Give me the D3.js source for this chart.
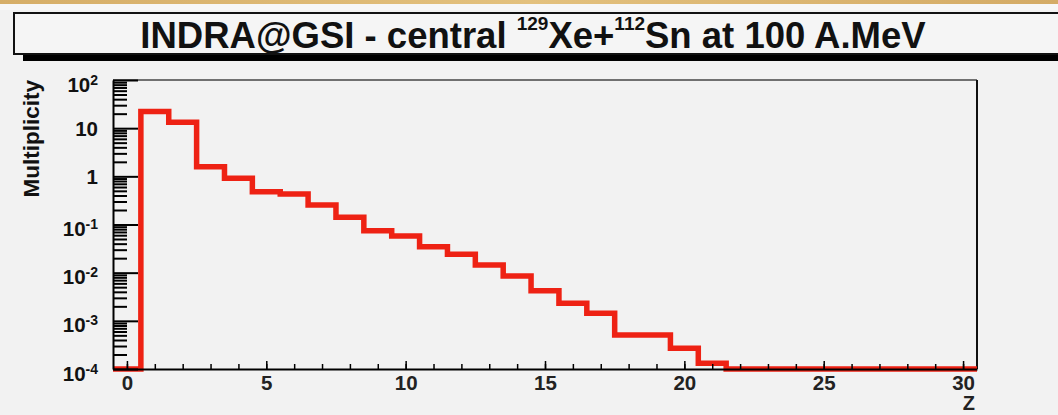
<!DOCTYPE html>
<html>
<head>
<meta charset="utf-8">
<script src="https://cdn.jsdelivr.net/npm/d3@7"></script>
<style>
  html, body { margin: 0; padding: 0; background: #f2f2f2; }
  svg { display: block; }
</style>
</head>
<body>
<script>
// charge distribution, one bin per Z, empty bins are 0
const zValues = [0, 1, 2, 3, 4, 5, 6, 7, 8, 9, 10, 11, 12, 13, 14, 15,
                 16, 17, 18, 19, 20, 21, 22, 23, 24, 25, 26, 27, 28, 29, 30]
const multiplicity = [0, 22.2, 13.2, 1.58, 0.91, 0.48, 0.43, 0.254, 0.141, 0.0745,
                      0.0577, 0.0346, 0.024, 0.0144, 0.0085, 0.00423, 0.00231, 0.00144,
                      0.000508, 0.000508, 0.000269, 0.000132, 0, 0, 0, 0, 0, 0, 0, 0, 0]
const xTicks = [0, 5, 10, 15, 20, 25, 30]
const yDecades = [1e-4, 1e-3, 1e-2, 1e-1, 1, 10, 100]
const yLabels = [['10', '-4'], ['10', '-3'], ['10', '-2'], ['10', '-1'], ['1', null], ['10', null], ['10', '2']]

const width = 1058
    , height = 415
    , frame = { left: 113, right: 977, top: 80, bottom: 369 }
    , red = '#ee2214'
    ;

const x = d3.scaleLinear().domain([-0.5, 30.5]).range([frame.left, frame.right])
    , y = d3.scaleLog().domain([1e-4, 100]).range([frame.bottom, frame.top])
    , yOf = v => v > 0 ? y(v) : frame.bottom
    ;

const svg = d3.select('body').append('svg')
    .attr('width', width)
    .attr('height', height)
    .attr('font-family', 'Liberation Sans, Arial, sans-serif')

// picture frame strip at the very top
const grad = svg.append('defs').append('linearGradient').attr('id', 'gold')
grad.append('stop').attr('offset', '0%').attr('stop-color', '#d6ae68')
grad.append('stop').attr('offset', '50%').attr('stop-color', '#e3c17e')
grad.append('stop').attr('offset', '100%').attr('stop-color', '#d4ab66')
svg.append('rect').attr('x', 0).attr('y', 0).attr('width', width).attr('height', 4).attr('fill', 'url(#gold)')
svg.append('rect').attr('x', 0).attr('y', 4).attr('width', width).attr('height', 6).attr('fill', '#f7f7f7')

// title pave with shadow
svg.append('rect')
    .attr('x', 23).attr('y', 55)
    .attr('width', 1080).attr('height', 6)
    .attr('fill', '#000')
svg.append('rect')
    .attr('x', 14).attr('y', 13)
    .attr('width', 1080).attr('height', 41)
    .attr('fill', '#f5f5f5')
    .attr('stroke', '#111')
    .attr('stroke-width', 2)

const title = svg.append('text')
    .attr('x', 533)
    .attr('y', 48)
    .attr('text-anchor', 'middle')
    .attr('font-size', 36.5)
    .attr('font-weight', 'bold')
    .attr('fill', '#111')
title.append('tspan').text('INDRA@GSI - central ')
title.append('tspan').attr('dy', -18).attr('font-size', 19).text('129')
title.append('tspan').attr('dy', 18).text('Xe+')
title.append('tspan').attr('dy', -18).attr('font-size', 19).text('112')
title.append('tspan').attr('dy', 18).text('Sn at 100 A.MeV')

// frame top and right
svg.append('line')
    .attr('x1', frame.left).attr('x2', frame.right)
    .attr('y1', frame.top).attr('y2', frame.top)
    .attr('stroke', '#444').attr('stroke-width', 1.5)
svg.append('line')
    .attr('x1', frame.right).attr('x2', frame.right)
    .attr('y1', frame.top).attr('y2', frame.bottom)
    .attr('stroke', '#111').attr('stroke-width', 2)

// histogram outline
const pts = []
zValues.forEach((z, i) => {
  pts.push([x(z - 0.5), yOf(multiplicity[i])])
  pts.push([x(z + 0.5), yOf(multiplicity[i])])
})
svg.append('path')
    .attr('d', d3.line()(pts))
    .attr('fill', 'none')
    .attr('stroke', red)
    .attr('stroke-width', 5.5)
    .attr('stroke-linejoin', 'miter')

// y axis: minor ticks, then major ticks with labels
const yMinor = []
yDecades.slice(0, -1).forEach(d => {
  for (let k = 2; k <= 9; k++) yMinor.push(d * k)
})

svg.append('g')
    .attr('transform', `translate(${frame.left},0)`)
    .call(d3.axisLeft(y).tickValues(yMinor).tickSize(-14).tickSizeOuter(0).tickFormat(''))
    .call(g => g.select('.domain').remove())
    .call(g => g.selectAll('line').attr('stroke', '#000').attr('stroke-width', 2))

svg.append('g')
    .attr('transform', `translate(${frame.left},0)`)
    .call(d3.axisLeft(y).tickValues(yDecades).tickSize(-25).tickSizeOuter(0).tickPadding(15).tickFormat(''))
    .call(g => g.select('.domain').attr('stroke', '#000').attr('stroke-width', 2))
    .call(g => g.selectAll('line').attr('stroke', '#000').attr('stroke-width', 2))
    .call(g => g.selectAll('.tick text').each(function(d, i) {
      const t = d3.select(this)
          , lab = yLabels[i]
          ;
      t.attr('font-size', 20.5)
       .attr('font-weight', 'bold')
       .attr('font-family', 'Liberation Sans, Arial, sans-serif')
       .attr('fill', '#111')
       .attr('dy', lab[1] ? 11 : 7)
      t.append('tspan').text(lab[0])
      if (lab[1]) t.append('tspan').attr('font-size', 14).attr('dy', -7).text(lab[1])
    }))

svg.append('text')
    .attr('transform', `translate(38.5,${frame.top}) rotate(-90)`)
    .attr('text-anchor', 'end')
    .attr('font-size', 22.5)
    .attr('font-weight', 'bold')
    .attr('fill', '#111')
    .text('Multiplicity')

// x axis
svg.append('g')
    .attr('transform', `translate(0,${frame.bottom})`)
    .call(d3.axisBottom(x).tickValues(d3.range(0, 31)).tickSize(-5).tickSizeOuter(0).tickFormat(''))
    .call(g => g.select('.domain').remove())
    .call(g => g.selectAll('line').attr('stroke', '#000').attr('stroke-width', 1.5))

svg.append('g')
    .attr('transform', `translate(0,${frame.bottom})`)
    .call(d3.axisBottom(x).tickValues(xTicks).tickSize(-8).tickSizeOuter(0).tickPadding(6))
    .call(g => g.select('.domain').attr('stroke', '#000').attr('stroke-width', 2))
    .call(g => g.selectAll('line').attr('stroke', '#000').attr('stroke-width', 1.5))
    .call(g => g.selectAll('text')
        .attr('font-size', 20.5)
        .attr('font-weight', 'bold')
        .attr('font-family', 'Liberation Sans, Arial, sans-serif')
        .attr('fill', '#222'))

svg.append('text')
    .attr('x', 975)
    .attr('y', 410)
    .attr('text-anchor', 'end')
    .attr('font-size', 20)
    .attr('font-weight', 'bold')
    .attr('fill', '#222')
    .text('Z')
</script>
</body>
</html>
